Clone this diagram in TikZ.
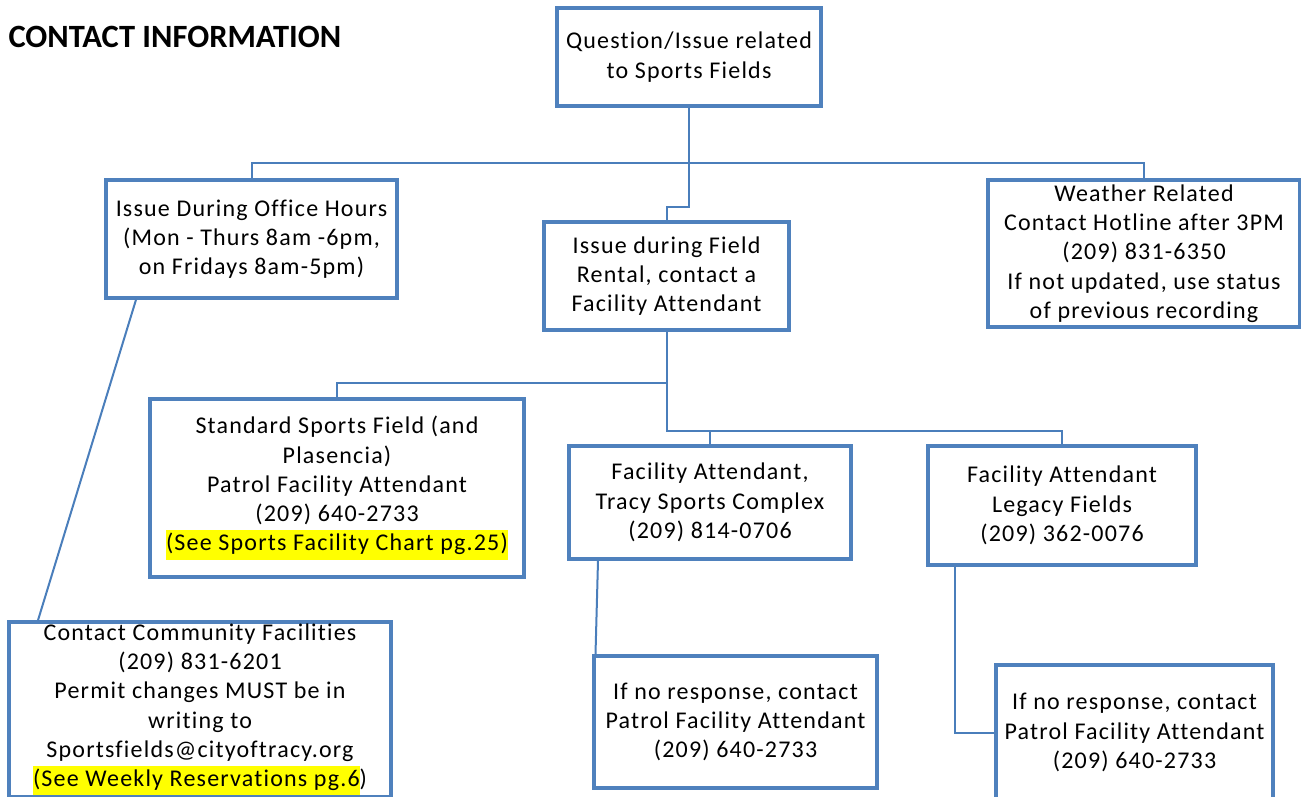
\documentclass[tikz,border=0pt]{standalone}
\usepackage{fontspec}
\setmainfont{Carlito}
\newfontfamily\boxfont[LetterSpace=5,Ligatures=NoCommon]{Carlito}
\usetikzlibrary{positioning,calc}
\definecolor{BoxBlue}{HTML}{4F81BD}
\definecolor{LinkBlue}{HTML}{4A7EBB}
\definecolor{Hilite}{HTML}{FFFF00}
\newcommand{\hilite}[1]{{\setlength{\fboxsep}{0pt}\colorbox{Hilite}{\strut #1}}}

\begin{document}
\begin{tikzpicture}[x=1pt,y=-1pt,
    box/.style={draw=BoxBlue,line width=3.5pt,fill=white,align=center,inner sep=0pt,
      font=\boxfont\fontsize{24}{29.3}\selectfont,
      execute at begin node={\rule{0pt}{26pt}}},
    link/.style={LinkBlue,line width=2pt}
  ]
  \useasboundingbox (0,0) rectangle (1301,796);
  \node[anchor=west,font=\bfseries\fontsize{32.5}{38}\selectfont] (title) at (5,37) {CONTACT INFORMATION};

  \node[box,minimum width=264,minimum height=98] (root) at (689,57)
    {Question/Issue related\\to Sports Fields};
  \node[box,minimum width=291,minimum height=118] (office) at (251.5,239)
    {Issue During Office Hours\\(Mon - Thurs 8am -6pm,\\on Fridays 8am-5pm)};
  \node[box,minimum width=245,minimum height=108] (rental) at (666.5,276)
    {Issue during Field\\Rental, contact a\\Facility Attendant};
  \node[box,minimum width=312,minimum height=147] (weather) at (1144,253.5)
    {Weather Related\\Contact Hotline after 3PM\\(209) 831-6350\\If not updated, use status\\of previous recording};
  \node[box,minimum width=374,minimum height=178] (standard) at (337,488)
    {Standard Sports Field (and\\Plasencia)\\Patrol Facility Attendant\\(209) 640-2733\\\hilite{(See Sports Facility Chart pg.25)}};
  \node[box,minimum width=282,minimum height=113] (tracy) at (710,502.5)
    {Facility Attendant,\\Tracy Sports Complex\\(209) 814-0706};
  \node[box,minimum width=268,minimum height=119] (legacy) at (1062,505.5)
    {Facility Attendant\\Legacy Fields\\(209) 362-0076};
  \node[box,minimum width=382,minimum height=175] (community) at (200,709.5)
    {Contact Community Facilities\\(209) 831-6201\\Permit changes MUST be in\\writing to\\Sportsfields@cityoftracy.org\\\hilite{(See Weekly Reservations pg.6}\strut)};
  \node[box,minimum width=283,minimum height=132] (noresp1) at (735.5,722)
    {If no response, contact\\Patrol Facility Attendant\\(209) 640-2733};
  \node[box,minimum width=277,minimum height=135] (noresp2) at (1134.5,732.5)
    {If no response, contact\\Patrol Facility Attendant\\(209) 640-2733};

  % first level
  \coordinate (bar) at (689,163);
  \coordinate (jog) at (689,207);
  \draw[link] (root.south) -- (bar);
  \draw[link] (office.north) |- (bar) -| (weather.north);
  \draw[link] (bar) -- (jog) -| (rental.north);
  \draw[link] ([xshift=-115.5]office.south) -- ([xshift=-162]community.north);

  % second level
  \coordinate (hub) at (666.5,383);
  \coordinate (hub2) at (666.5,431);
  \draw[link] (rental.south) -- (hub) -| (standard.north);
  \draw[link] (hub) -- (hub2) -| (legacy.north);
  \draw[link] (tracy.north) -- (tracy.north |- hub2);
  \draw[link] ([xshift=-112]tracy.south) -- ([xshift=-140]noresp1.north);
  \draw[link] ([xshift=-107]legacy.south) |- (noresp2.west);
\end{tikzpicture}
\end{document}
